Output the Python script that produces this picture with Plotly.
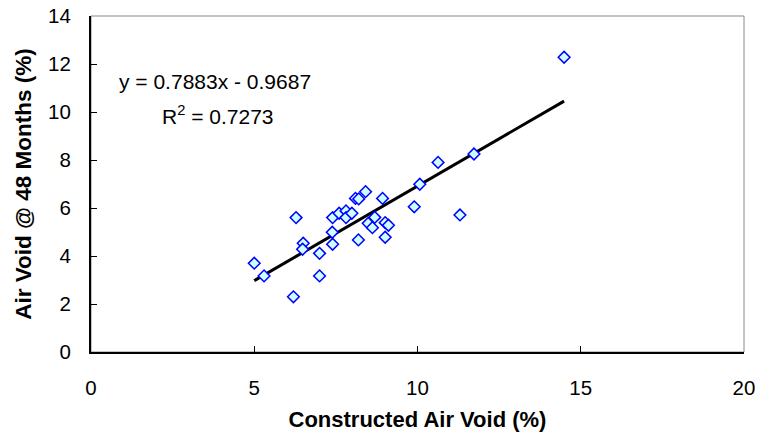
import plotly.graph_objects as go

constructed = [5.0, 5.3, 6.2, 6.28, 6.5, 6.48, 7.0, 7.0, 7.4, 7.39, 7.4, 7.6, 7.81, 7.81,
               7.99, 8.1, 8.2, 8.19, 8.41, 8.49, 8.62, 8.69, 8.93, 9.01, 9.11, 9.01,
               9.9, 10.07, 10.63, 11.3, 11.73, 14.49]
months48 = [3.7, 3.17, 2.3, 5.6, 4.53, 4.28, 4.11, 3.17, 5.6, 4.99, 4.49, 5.78, 5.88, 5.6,
            5.78, 6.4, 6.38, 4.67, 6.68, 5.36, 5.18, 5.61, 6.4, 5.39, 5.28, 4.78,
            6.05, 6.99, 7.9, 5.71, 8.25, 12.28]
slope, intercept = 0.7883, -0.9687
fit_x = [min(constructed), max(constructed)]
fit_y = [slope * v + intercept for v in fit_x]

FAM = "Liberation Sans, Arial, sans-serif"

fig = go.Figure()
fig.add_trace(go.Scatter(x=fit_x, y=fit_y, mode="lines",
                         line=dict(color="black", width=3), hoverinfo="skip"))
fig.add_trace(go.Scatter(x=constructed, y=months48, mode="markers",
                         marker=dict(symbol="diamond", size=9, color="#ccffff",
                                     line=dict(color="#0000ff", width=1.5))))

afont = dict(family=FAM, size=21, color="black")
fig.add_annotation(x=0.1905, y=0.804, xref="paper", yref="paper", showarrow=False,
                   text="y = 0.7883x - 0.9687", font=afont, xanchor="center", yanchor="middle")
fig.add_annotation(x=0.194, y=0.705, xref="paper", yref="paper", showarrow=False,
                   text="R<sup>2</sup> = 0.7273", font=afont, xanchor="center", yanchor="middle")

fig.add_shape(type="rect", xref="paper", yref="paper", x0=0, y0=0, x1=1, y1=1,
              line=dict(color="#888888", width=1), layer="below")

fig.update_layout(
    width=757, height=433, showlegend=False,
    margin=dict(l=91, r=13, t=16, b=81, autoexpand=False),
    paper_bgcolor="white", plot_bgcolor="white",
    font=dict(family=FAM, size=20, color="black"),
    xaxis=dict(range=[0, 20], tickvals=[0, 5, 10, 15, 20], ticks="inside", ticklen=6,
               tickcolor="black", showgrid=False, zeroline=False, showline=True,
               linecolor="black", linewidth=2, ticklabelstandoff=16, automargin=False,
               tickfont=dict(family=FAM, size=20.5),
               title=dict(text="<b>Constructed Air Void (%)</b>", standoff=14,
                          font=dict(family=FAM, size=22))),
    yaxis=dict(range=[0, 14], tickvals=[0, 2, 4, 6, 8, 10, 12, 14], ticks="inside", ticklen=6,
               tickcolor="black", showgrid=False, zeroline=False, showline=True,
               linecolor="black", linewidth=2, ticklabelstandoff=14, automargin=False,
               tickfont=dict(family=FAM, size=20.5),
               title=dict(text="<b>Air Void @ 48 Months (%)</b>", standoff=10,
                          font=dict(family=FAM, size=22.5))),
)
fig.write_html("out.html")
